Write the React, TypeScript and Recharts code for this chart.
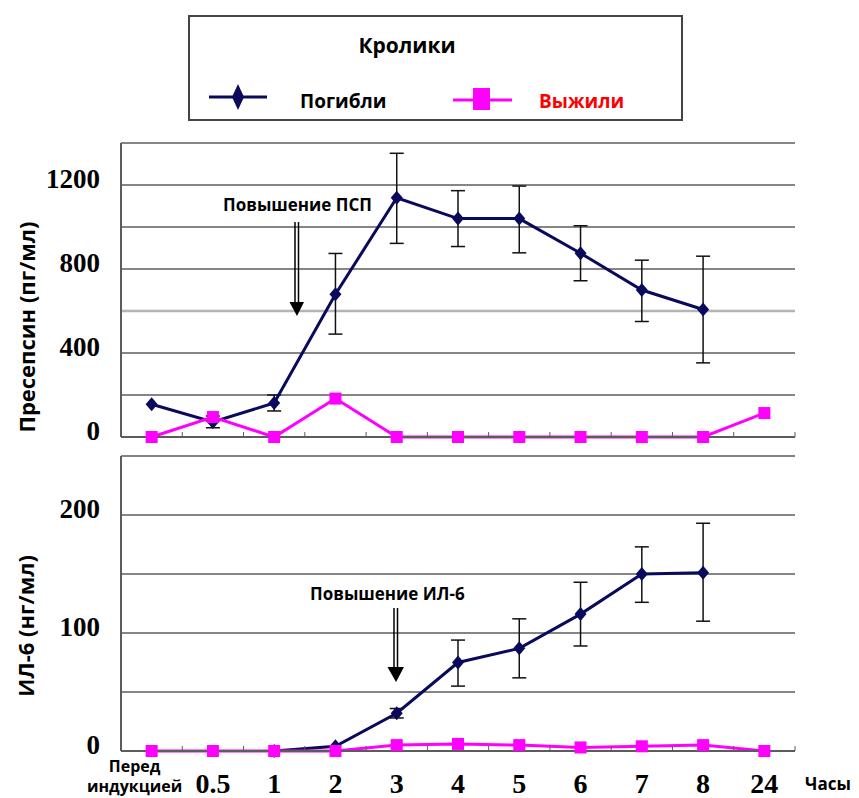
import { LineChart, Line, XAxis, YAxis, CartesianGrid, ErrorBar } from 'recharts';

// time points (hours)
const categories = ['Перед индукцией', '0.5', '1', '2', '3', '4', '5', '6', '7', '8', '24'];

// presepsin, pg/ml
const pspDied = [156, 72, 162, 680, 1139, 1040, 1040, 875, 700, 607, null];
const pspDiedErr = [null, [28, 28], [38, 38], [190, 194], [217, 212], [133, 133], [163, 155], [131, 131], [150, 142], [254, 254], null];
const pspSurvived = [0, 95, 0, 183, 0, 0, 0, 0, 0, 0, 114];
const pspTicks = [0, 200, 400, 600, 800, 1000, 1200, 1400];
const pspLabels = [0, 400, 800, 1200];

// IL-6, ng/ml
const ilDied = [null, null, 0, 4, 32, 75, 87, 116, 150, 151, null];
const ilDiedErr = [null, null, null, null, [4, 4], [20, 19], [25, 25], [27, 27], [24, 23], [41, 42], null];
const ilSurvived = [0, 0, 0, 0, 5, 6, 5, 3, 4, 5, 0];
const ilTicks = [0, 50, 100, 150, 200, 250];
const ilLabels = [0, 100, 200];

const boundaries = categories.map((_, i) => i - 0.5).concat([categories.length - 0.5]);
const centers = categories.map((_, i) => i);

const NAVY = '#0a0a5c';
const PINK = '#ff00ff';
const GRID = '#5c5c5c';
const SANS = '"Open Sans", "Noto Sans", sans-serif';
const SERIF = '"Liberation Serif", "Times New Roman", serif';

const pspData = categories.map((c, i) => ({
  x: i,
  name: c,
  died: pspDied[i],
  diedErr: pspDiedErr[i],
  survived: pspSurvived[i],
}));

const ilData = categories.map((c, i) => ({
  x: i,
  name: c,
  died: ilDied[i],
  diedErr: ilDiedErr[i],
  survived: ilSurvived[i],
}));

function Diamond(props: any) {
  const { cx, cy } = props;
  if (cx == null || cy == null || isNaN(cy)) return <g />;
  return <path d={`M${cx},${cy - 7}L${cx + 6},${cy}L${cx},${cy + 7}L${cx - 6},${cy}Z`} fill={NAVY} />;
}

function Square(props: any) {
  const { cx, cy } = props;
  if (cx == null || cy == null || isNaN(cy)) return <g />;
  return <rect x={cx - 6} y={cy - 6} width={12} height={12} fill={PINK} />;
}

function makeYTick(labels: number[]) {
  return (props: any) => {
    const { x, y, payload } = props;
    if (!labels.includes(payload.value)) return <g />;
    return (
      <text x={x} y={y} dy={-6} textAnchor="end" dominantBaseline="central"
        fontFamily={SERIF} fontWeight={700} fontSize={27} fill="#000">
        {payload.value}
      </text>
    );
  };
}

function XLabelTick(props: any) {
  const { x, y, payload } = props;
  const label = categories[payload.value];
  if (payload.value === 0) {
    const [a, b] = label.split(' ');
    return (
      <g fontFamily={SANS} fontWeight={700} fontSize={16} fill="#000">
        <text x={x - 17} y={y} dy={9} textAnchor="middle">{a}</text>
        <text x={x - 17} y={y} dy={29} textAnchor="middle">{b}</text>
      </g>
    );
  }
  return (
    <text x={x} y={y} dy={30} textAnchor="middle" fontFamily={SERIF} fontWeight={700} fontSize={28} fill="#000">
      {label}
    </text>
  );
}

function Panel(props: {
  data: any[];
  height: number;
  margin: any;
  ticks: number[];
  labels: number[];
  light?: number[];
  showLabels: boolean;
}) {
  const { data, height, margin, ticks, labels, light, showLabels } = props;
  const top = ticks[ticks.length - 1];
  const dark = ticks.filter((t) => t !== 0 && !(light || []).includes(t));
  return (
    <LineChart width={859} height={height} data={data} margin={margin}>
      <CartesianGrid xAxisId="b" vertical={false} horizontalValues={dark} stroke={GRID} strokeWidth={1.5} />
      {light && (
        <CartesianGrid xAxisId="b" vertical={false} horizontalValues={light} stroke="#b4b4b4" strokeWidth={2.5} />
      )}
      <XAxis
        xAxisId="b"
        type="number"
        dataKey="x"
        domain={[-0.5, categories.length - 0.5]}
        ticks={boundaries}
        interval={0}
        tickSize={-5}
        tickFormatter={() => ''}
        height={showLabels ? 4 : 10}
        axisLine={{ stroke: GRID, strokeWidth: 2 }}
        tickLine={{ stroke: GRID, strokeWidth: 1 }}
      />
      {showLabels && (
        <XAxis
          xAxisId="l"
          type="number"
          dataKey="x"
          domain={[-0.5, categories.length - 0.5]}
          ticks={centers}
          interval={0}
          height={40}
          axisLine={false}
          tickLine={false}
          tick={<XLabelTick />}
        />
      )}
      <YAxis
        type="number"
        domain={[0, top]}
        ticks={ticks}
        interval={0}
        width={121}
        tickSize={6}
        tickMargin={15}
        tickLine={false}
        axisLine={{ stroke: GRID, strokeWidth: 2 }}
        tick={makeYTick(labels)}
      />
      <Line
        xAxisId="b"
        dataKey="died"
        stroke={NAVY}
        strokeWidth={3}
        dot={<Diamond />}
        activeDot={false}
        isAnimationActive={false}
      >
        <ErrorBar dataKey="diedErr" direction="y" width={7} stroke="#111" strokeWidth={1.5} isAnimationActive={false} />
      </Line>
      <Line
        xAxisId="b"
        dataKey="survived"
        stroke={PINK}
        strokeWidth={3}
        dot={<Square />}
        activeDot={false}
        isAnimationActive={false}
      />
    </LineChart>
  );
}

export default function App() {
  return (
    <div style={{ position: 'absolute', left: 0, top: 0, width: 859, height: 798, overflow: 'hidden', background: '#fff' }}>
      <div style={{ position: 'absolute', left: 0, top: 0 }}>
        <Panel
          data={pspData}
          height={460}
          margin={{ top: 143, right: 64, bottom: 13, left: 0 }}
          ticks={pspTicks}
          labels={pspLabels}
          light={[600]}
          showLabels={false}
        />
      </div>
      <div style={{ position: 'absolute', left: 0, top: 440 }}>
        <Panel
          data={ilData}
          height={358}
          margin={{ top: 16, right: 64, bottom: 3, left: 0 }}
          ticks={ilTicks}
          labels={ilLabels}
          showLabels={true}
        />
      </div>
      <svg width={859} height={798} style={{ position: 'absolute', left: 0, top: 0, pointerEvents: 'none' }}>
        {/* legend box */}
        <rect x={189} y={16} width={493} height={104} fill="#fff" stroke="#444" strokeWidth={2} />
        <text x={407} y={53} textAnchor="middle" fontFamily={SANS} fontWeight={700} fontSize={21}>Кролики</text>
        <line x1={209} y1={97} x2={267} y2={97} stroke={NAVY} strokeWidth={3} />
        <path d="M238,84L244,97L238,110L232,97Z" fill={NAVY} />
        <text x={300} y={108} fontFamily={SANS} fontWeight={700} fontSize={19}>Погибли</text>
        <line x1={453} y1={100} x2={512} y2={100} stroke={PINK} strokeWidth={3} />
        <rect x={473} y={88} width={17} height={22} fill={PINK} />
        <text x={539} y={108} fontFamily={SANS} fontWeight={700} fontSize={19} fill="#ff0000">Выжили</text>

        {/* annotations */}
        <text x={223} y={211} fontFamily={SANS} fontWeight={700} fontSize={17}>Повышение ПСП</text>
        <line x1={295} y1={222} x2={295} y2={303} stroke="#000" strokeWidth={1.5} />
        <line x1={298.5} y1={222} x2={298.5} y2={303} stroke="#000" strokeWidth={1.5} />
        <path d="M289.5,302L304,302L297,316Z" fill="#000" />

        <text x={310} y={600} fontFamily={SANS} fontWeight={700} fontSize={17}>Повышение ИЛ-6</text>
        <line x1={394} y1={608} x2={394} y2={668} stroke="#000" strokeWidth={1.5} />
        <line x1={397.5} y1={608} x2={397.5} y2={668} stroke="#000" strokeWidth={1.5} />
        <path d="M387.5,667L404,667L396,682Z" fill="#000" />

        {/* axis titles */}
        <text x={26} y={327} transform="rotate(-90 26 327)" textAnchor="middle" dominantBaseline="central"
          fontFamily={SANS} fontWeight={700} fontSize={22}>Пресепсин (пг/мл)</text>
        <text x={25} y={626} transform="rotate(-90 25 626)" textAnchor="middle" dominantBaseline="central"
          fontFamily={SANS} fontWeight={700} fontSize={22}>ИЛ-6 (нг/мл)</text>
        <text x={805} y={790} fontFamily={SANS} fontWeight={700} fontSize={17}>Часы</text>
      </svg>
    </div>
  );
}
